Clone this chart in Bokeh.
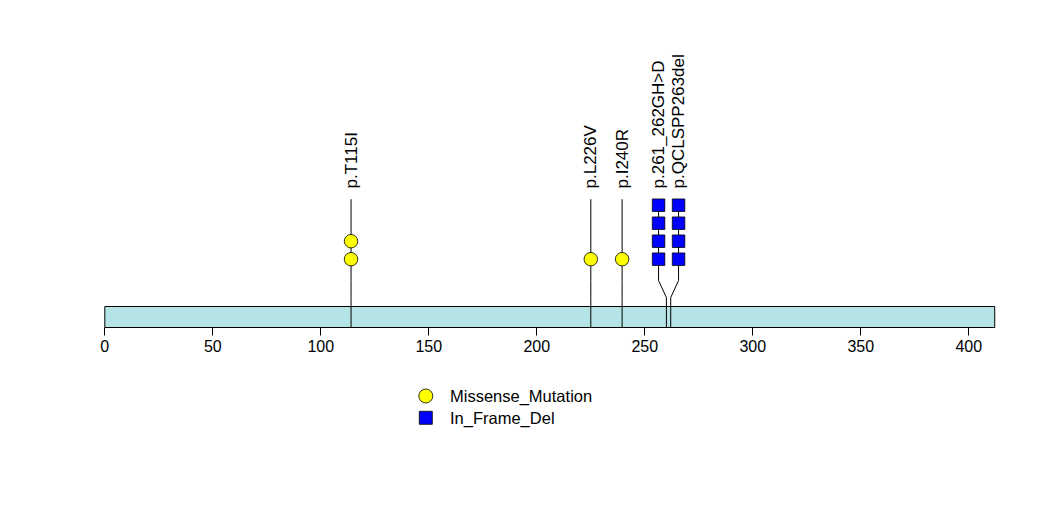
import numpy as np
from bokeh.plotting import figure
from bokeh.models import Range1d, LinearAxis, FixedTicker, ColumnDataSource
from bokeh.core.properties import value
from bokeh.embed import file_html
from bokeh.resources import INLINE

# ---------------- data ----------------
protein_length = 412
mut_positions = [114, 225, 239.5, 260, 262]
mut_labels = ["p.T115I", "p.L226V", "p.I240R", "p.261_262GH>D", "p.QCLSPP263del"]
mut_counts = [2, 1, 1, 4, 4]
mut_types = ["Missense_Mutation", "Missense_Mutation", "Missense_Mutation",
             "In_Frame_Del", "In_Frame_Del"]
type_names = ["Missense_Mutation", "In_Frame_Del"]
type_colors = ["#FFFF00", "#0000FF"]
type_markers = ["circle", "square"]
tick_values = [0, 50, 100, 150, 200, 250, 300, 350, 400]

# ---------------- layout constants ----------------
W, H = 1047, 524
PX_PER_UNIT = 2.16
X0_PX = 104.3
FONT = "Liberation Sans"

def px_to_x(px):
    return (px - X0_PX) / PX_PER_UNIT

BAR_TOP, BAR_BOTTOM = 306, 327
BEND_LOW, BEND_HIGH = 297, 280
LEVEL1_Y, LEVEL_STEP = 258.7, 18
LABEL_Y = 188
MIN_GAP = 20 / PX_PER_UNIT

# spread overlapping lollipops apart (label collision avoidance)
order = np.argsort(mut_positions)
disp = list(mut_positions)
groups, cur = [], [order[0]]
for i in order[1:]:
    if mut_positions[i] - mut_positions[cur[-1]] < MIN_GAP:
        cur.append(i)
    else:
        groups.append(cur)
        cur = [i]
groups.append(cur)
for g in groups:
    if len(g) > 1:
        m = np.mean([mut_positions[i] for i in g])
        for k, i in enumerate(g):
            disp[i] = m + (k - (len(g) - 1) / 2) * MIN_GAP

max_count = max(mut_counts)
line_top = LEVEL1_Y - LEVEL_STEP * (max_count - 1) - 6

p = figure(width=W, height=H, x_range=Range1d(px_to_x(0), px_to_x(W)),
           y_range=Range1d(H, 0), output_backend="svg", toolbar_location=None,
           min_border=0, x_axis_type=None, y_axis_type=None,
           outline_line_color=None, background_fill_color="white",
           border_fill_color="white")

# protein bar
p.quad(left=[0], right=[protein_length], top=[BAR_TOP], bottom=[BAR_BOTTOM],
       fill_color="#B4E4E5", line_color="black", line_width=1)

# stems
xs, ys = [], []
for pos, d in zip(mut_positions, disp):
    xs.append([pos, pos, d, d])
    ys.append([BAR_BOTTOM, BEND_LOW, BEND_HIGH, line_top])
p.multi_line(xs=xs, ys=ys, line_color="black", line_width=1)

# markers
for tname, col, mk in zip(type_names, type_colors, type_markers):
    mx, my = [], []
    for d, c, t in zip(disp, mut_counts, mut_types):
        if t == tname:
            for k in range(c):
                mx.append(d)
                my.append(LEVEL1_Y - LEVEL_STEP * k)
    size = 13.5 if mk == "circle" else 12.5
    p.scatter(x=mx, y=my, marker=mk, size=size, fill_color=col,
              line_color="black", line_width=0.8)

# labels
p.text(x=disp, y=[LABEL_Y] * len(disp), text=mut_labels, angle=np.pi / 2,
       text_align="left", text_baseline="middle",
       text_font=value(FONT), text_font_size="17px", text_color="black")

# axis
xaxis = LinearAxis(fixed_location=BAR_BOTTOM, ticker=FixedTicker(ticks=tick_values),
                   bounds=(0, 400))
xaxis.axis_line_color = None
xaxis.major_tick_in = 0
xaxis.major_tick_out = 8
xaxis.minor_tick_out = 0
xaxis.minor_tick_in = 0
xaxis.major_tick_line_color = "black"
xaxis.major_label_standoff = 4
xaxis.major_label_text_font = FONT
xaxis.major_label_text_font_size = "16px"
xaxis.major_label_text_color = "black"
p.add_layout(xaxis, "below")

# legend
LEG_X = px_to_x(425.3)
LEG_TEXT_X = px_to_x(449.5)
LEG_Y = [395.5, 417.3]
for (tname, col, mk), ly in zip(zip(type_names, type_colors, type_markers), LEG_Y):
    size = 14 if mk == "circle" else 13
    p.scatter(x=[LEG_X], y=[ly], marker=mk, size=size, fill_color=col,
              line_color="black", line_width=0.8)
p.text(x=[LEG_TEXT_X] * 2, y=LEG_Y, text=type_names, text_align="left",
       text_baseline="middle", text_font=value(FONT), text_font_size="16.5px",
       text_color="black")

open("out.html", "w").write(file_html(p, INLINE))
